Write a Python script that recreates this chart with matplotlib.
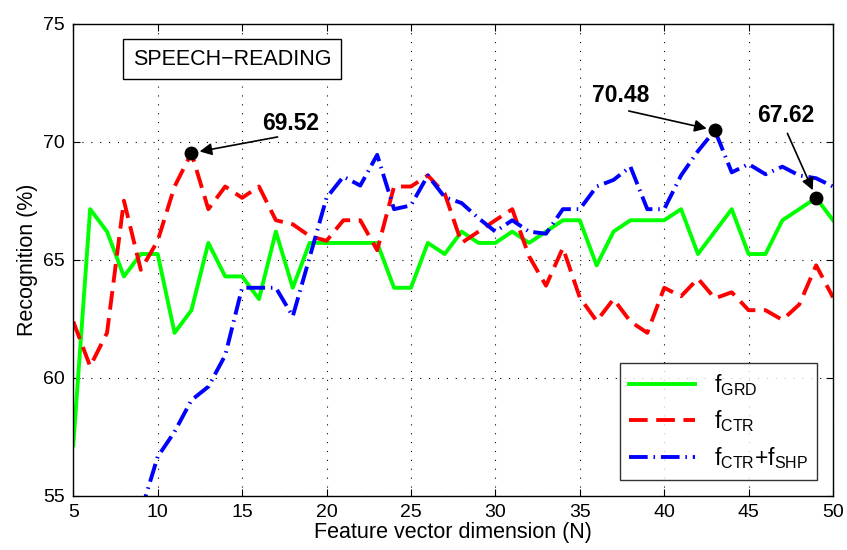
import numpy as np
import matplotlib
matplotlib.use('Agg')
import matplotlib.pyplot as plt

plt.rcParams['font.family'] = ['Liberation Sans', 'DejaVu Sans']
plt.rcParams['mathtext.fontset'] = 'custom'
plt.rcParams['mathtext.rm'] = 'Liberation Sans'

# feature vector dimension
dims = list(range(5, 51))
dims_shp = list(range(9, 51))

# recognition rates (%)
grd = [57.14, 67.14, 66.19, 64.29, 65.24, 65.24, 61.90, 62.86, 65.71, 64.29,
       64.29, 63.33, 66.19, 63.81, 65.71, 65.71, 65.71, 65.71, 65.71, 63.81,
       63.81, 65.71, 65.24, 66.19, 65.71, 65.71, 66.19, 65.71, 66.19, 66.67,
       66.67, 64.76, 66.19, 66.67, 66.67, 66.67, 67.14, 65.24, 66.19, 67.14,
       65.24, 65.24, 66.67, 67.14, 67.62, 66.67]
ctr = [62.38, 60.48, 61.90, 67.50, 64.57, 65.80, 68.10, 69.52, 67.14, 68.10,
       67.62, 68.10, 66.67, 66.50, 66.00, 65.80, 66.67, 66.67, 65.40, 68.10,
       68.10, 68.57, 67.80, 65.71, 66.19, 66.67, 67.14, 65.14, 63.90, 65.50,
       63.40, 62.40, 63.33, 62.38, 61.90, 63.81, 63.45, 64.20, 63.36, 63.62,
       62.86, 62.86, 62.45, 63.10, 64.76, 63.40]
ctr_shp = [54.30, 56.65, 57.71, 59.05, 59.62, 60.95, 63.81, 63.81, 63.81, 62.60,
           65.10, 67.62, 68.52, 68.14, 69.44, 67.14, 67.30, 68.57, 67.65, 67.40,
           66.76, 66.19, 66.67, 66.19, 66.10, 67.14, 67.14, 68.10, 68.38, 68.94,
           67.14, 67.14, 68.57, 69.60, 70.48, 68.70, 69.05, 68.62, 68.94, 68.57,
           68.45, 68.10]

# highlighted maxima: (x, y, label pos)
peaks = [(12, 69.52, 17.9, 70.75), (43, 70.48, 37.45, 71.95), (49, 67.62, 47.2, 71.1)]
arrow_tails = [(17.1, 70.2), (37.9, 71.3), (47.3, 70.35)]

fig = plt.figure(figsize=(8.47, 5.5), dpi=100)
ax = fig.add_axes([0.0865, 0.0987, 0.897, 0.8583])

ax.plot(dims, grd, color='#00ff00', lw=2.8, label=r'f$_{\mathrm{GRD}}$')
ax.plot(dims, ctr, color='#ff0000', lw=2.8, dashes=(4.8, 2.2),
        label=r'f$_{\mathrm{CTR}}$')
ax.plot(dims_shp, ctr_shp, color='#0000ff', lw=2.8,
        dashes=(4.8, 1.5, 0.4, 1.5),
        label=r'f$_{\mathrm{CTR}}$+f$_{\mathrm{SHP}}$')

for (px, py, tx, ty), (ax_, ay_) in zip(peaks, arrow_tails):
    ax.plot(px, py, 'o', color='k', ms=9, zorder=5)
    ax.annotate('', xy=(px, py), xytext=(ax_, ay_),
                arrowprops=dict(arrowstyle='-|>', color='k', lw=1.2,
                                mutation_scale=18, shrinkA=0, shrinkB=6))
    ax.text(tx, ty, '%.2f' % py, fontsize=16.5, fontweight='bold',
            ha='center', va='center')

ax.text(14.4, 73.5, 'SPEECH\u2212READING', fontsize=15.5, ha='center',
        va='center', bbox=dict(boxstyle='square,pad=0.45', fc='white',
                               ec='k', lw=1))

ax.set_xlim(5, 50)
ax.set_ylim(55, 75)
ax.set_xticks(range(5, 51, 5))
ax.set_yticks(range(55, 76, 5))
ax.tick_params(direction='in', top=True, right=True, length=5,
               labelsize=14, pad=6)
ax.grid(True, color='k', linestyle=(0, (1, 7)), lw=0.8)
for s in ax.spines.values():
    s.set_linewidth(1.0)

ax.set_xlabel('Feature vector dimension (N)', fontsize=15.5, labelpad=1)
ax.set_ylabel('Recognition (%)', fontsize=15.5, labelpad=4)

leg = ax.legend(loc='lower right', fontsize=16.5, frameon=True, fancybox=False,
                edgecolor='k', handlelength=2.9, borderaxespad=0.7,
                labelspacing=0.45)
leg.get_frame().set_linewidth(1.0)

fig.savefig('out.png', dpi=100)
